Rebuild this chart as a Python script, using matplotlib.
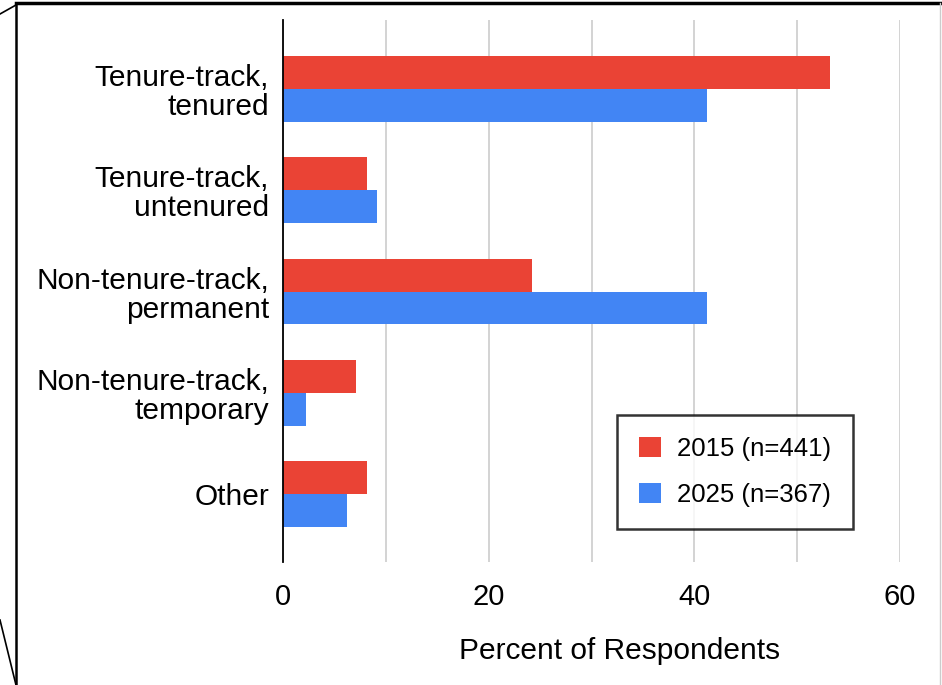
import matplotlib.pyplot as plt
from matplotlib.lines import Line2D
from matplotlib.patches import Patch
import numpy as np

plt.rcParams['font.family'] = ['Liberation Sans', 'DejaVu Sans']

categories = ['Tenure-track,\ntenured', 'Tenure-track,\nuntenured',
              'Non-tenure-track,\npermanent', 'Non-tenure-track,\ntemporary', 'Other']
pct_2015 = [53.2, 8.2, 24.2, 7.1, 8.2]
pct_2025 = [41.2, 9.1, 41.2, 2.2, 6.2]
labels = ['2015 (n=441)', '2025 (n=367)']
red = '#EA4335'
blue = '#4285F4'

W, H = 942, 685
fig = plt.figure(figsize=(W / 100, H / 100), dpi=100)
ax = fig.add_axes([283 / W, 1 - 562 / H, (900 - 283) / W, (562 - 20) / H])

y = np.arange(len(categories))
h = 0.325
ax.barh(y - h / 2, pct_2015, height=h, color=red, zorder=3)
ax.barh(y + h / 2, pct_2025, height=h, color=blue, zorder=3)

ax.set_ylim(len(categories) - 0.33, -0.68)
ax.set_xlim(0, 60)
ax.set_xticks([0, 20, 40, 60])
ax.set_xticks([10, 30, 50], minor=True)
ax.grid(axis='x', which='both', color='#cccccc', linewidth=1.2, zorder=0)
ax.set_yticks(y)
ax.set_yticklabels(categories, fontsize=21.5, linespacing=1.05, ha='right')
ax.tick_params(axis='y', length=0, pad=10)
ax.tick_params(axis='x', which='both', length=0, pad=15, labelsize=21)
for s in ['top', 'right', 'bottom']:
    ax.spines[s].set_visible(False)
ax.spines['left'].set_linewidth(1.3)
ax.spines['left'].set_zorder(4)
ax.set_xlabel('Percent of Respondents', fontsize=21.5)
ax.xaxis.set_label_coords((620 - 283) / 617, -(651 - 562) / 542)
ax.xaxis.label.set_va('center')

handles = [Patch(facecolor=red, edgecolor='none'), Patch(facecolor=blue, edgecolor='none')]
leg = fig.legend(handles, labels, loc='upper left', bbox_to_anchor=(617 / W, 1 - 415 / H),
                 fontsize=18.5, frameon=True, fancybox=False, edgecolor='black',
                 handlelength=0.85, handleheight=0.85, handletextpad=0.65,
                 borderpad=0.85, labelspacing=0.85, borderaxespad=0)
leg.get_frame().set_linewidth(1.8)

# hand-drawn frame around the chart
def fl(x0, y0, x1, y1, c='black', lw=1.8):
    fig.add_artist(Line2D([x0 / W, x1 / W], [1 - y0 / H, 1 - y1 / H], color=c, linewidth=lw))

fl(16, 3, 942, 3, lw=2.5)
fl(16, 3, 16, 685)
fl(0, 14, 16, 5, lw=1.2)
fl(0, 620, 16, 685, lw=1.2)
fl(940, 3, 940, 685, c='#cccccc', lw=1)

fig.savefig('out.png', dpi=100)
